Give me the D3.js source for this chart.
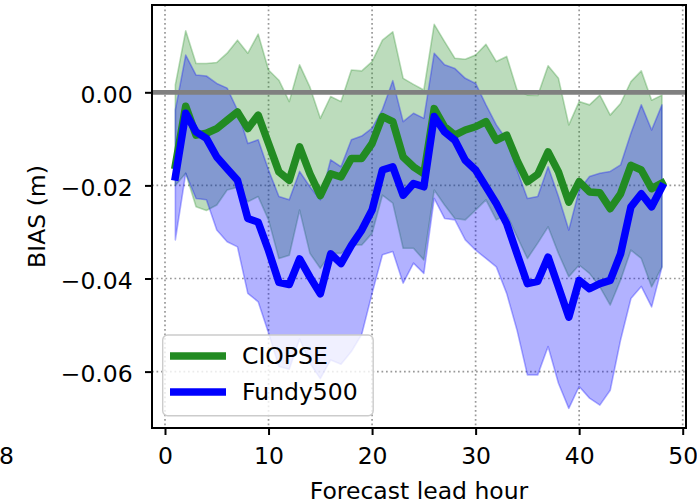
<!DOCTYPE html>
<html>
<head>
<meta charset="utf-8">
<script src="https://cdn.jsdelivr.net/npm/d3@7"></script>
<style>
  html, body { margin: 0; padding: 0; background: #fff; }
  svg { display: block; font-family: "DejaVu Sans", sans-serif; }
</style>
</head>
<body>
<svg id="chart" width="697" height="504"></svg>
<script>
// Forecast lead hours 1..48
const hours = d3.range(1, 49);

// CIOPSE bias (m): mean and spread envelope
const ciopseMean = [
  -0.0157, -0.0030, -0.0092, -0.0088, -0.0078, -0.0060, -0.0042, -0.0078, -0.0049, -0.0110,
  -0.0171, -0.0189, -0.0117, -0.0175, -0.0222, -0.0175, -0.0182, -0.0142, -0.0142, -0.0110,
  -0.0052, -0.0063, -0.0139, -0.0160, -0.0175, -0.0035, -0.0074, -0.0092, -0.0081, -0.0074,
  -0.0063, -0.0103, -0.0092, -0.0146, -0.0192, -0.0176, -0.0128, -0.0171, -0.0236, -0.0192,
  -0.0214, -0.0216, -0.0250, -0.0218, -0.0157, -0.0167, -0.0207, -0.0195
];
const ciopseUpper = [
   0.0016,  0.0132,  0.0062,  0.0062,  0.0064,  0.0084,  0.0112,  0.0084,  0.0125,  0.0048,
   0.0026, -0.0020,  0.0059,  0.0011, -0.0056, -0.0009, -0.0020,  0.0048,  0.0046,  0.0066,
   0.0112,  0.0130,  0.0030,  0.0017,  0.0005,  0.0146,  0.0109,  0.0073,  0.0071,  0.0080,
   0.0103,  0.0066,  0.0077,  0.0005, -0.0006, -0.0007,  0.0057,  0.0030, -0.0070, -0.0020,
  -0.0027, -0.0006, -0.0049, -0.0024,  0.0023,  0.0046, -0.0017, -0.0006
];
const ciopseLower = [
  -0.0200, -0.0174, -0.0246, -0.0254, -0.0242, -0.0210, -0.0204, -0.0235, -0.0224, -0.0274,
  -0.0357, -0.0350, -0.0253, -0.0346, -0.0378, -0.0346, -0.0346, -0.0328, -0.0328, -0.0303,
  -0.0221, -0.0238, -0.0335, -0.0335, -0.0360, -0.0210, -0.0242, -0.0271, -0.0274, -0.0253,
  -0.0231, -0.0274, -0.0262, -0.0310, -0.0357, -0.0324, -0.0289, -0.0346, -0.0396, -0.0371,
  -0.0389, -0.0418, -0.0457, -0.0403, -0.0339, -0.0357, -0.0418, -0.0375
];

// Fundy500 bias (m): mean and spread envelope
const fundyMean = [
  -0.0182, -0.0045, -0.0085, -0.0099, -0.0139, -0.0164, -0.0189, -0.0271, -0.0279, -0.0340,
  -0.0408, -0.0413, -0.0358, -0.0397, -0.0433, -0.0347, -0.0368, -0.0329, -0.0296, -0.0253,
  -0.0167, -0.0160, -0.0221, -0.0196, -0.0203, -0.0052, -0.0085, -0.0103, -0.0146, -0.0167,
  -0.0203, -0.0239, -0.0282, -0.0347, -0.0411, -0.0406, -0.0354, -0.0418, -0.0483, -0.0404,
  -0.0422, -0.0411, -0.0404, -0.0347, -0.0246, -0.0218, -0.0246, -0.0203
];
const fundyUpper = [
  -0.0038,  0.0080,  0.0037,  0.0035,  0.0019,  0.0009, -0.0038, -0.0110, -0.0102, -0.0167,
  -0.0224, -0.0231, -0.0170, -0.0203, -0.0231, -0.0145, -0.0160, -0.0102, -0.0094, -0.0077,
  -0.0037,  0.0025, -0.0063, -0.0045, -0.0056,  0.0084,  0.0059,  0.0051,  0.0030,  0.0019,
  -0.0027, -0.0070, -0.0102, -0.0167, -0.0228, -0.0224, -0.0160, -0.0224, -0.0296, -0.0210,
  -0.0181, -0.0174, -0.0170, -0.0156, -0.0088, -0.0027, -0.0081, -0.0027
];
const fundyLower = [
  -0.0317, -0.0174, -0.0228, -0.0231, -0.0296, -0.0321, -0.0332, -0.0432, -0.0450, -0.0517,
  -0.0589, -0.0595, -0.0530, -0.0582, -0.0615, -0.0575, -0.0584, -0.0557, -0.0520, -0.0432,
  -0.0349, -0.0342, -0.0410, -0.0367, -0.0389, -0.0228, -0.0271, -0.0274, -0.0317, -0.0339,
  -0.0357, -0.0375, -0.0432, -0.0511, -0.0607, -0.0607, -0.0546, -0.0625, -0.0679, -0.0632,
  -0.0657, -0.0672, -0.0640, -0.0532, -0.0443, -0.0417, -0.0461, -0.0375
];

const xTicks = [0, 10, 20, 30, 40, 50];
const yTicks = [0, -0.02, -0.04, -0.06];
const seriesNames = ["CIOPSE", "Fundy500"];
const xLabel = "Forecast lead hour";
const yLabel = "BIAS (m)";

// ---- layout ----
const FONT = 23.5;
const box = { left: 152, right: 686, top: 5, bottom: 428 };
const green = "#228B22", blue = "#0000FF";

const svg = d3.select("#chart");

const x = d3.scaleLinear().domain([0, 50]).range([165, 682.7]);
const y = d3.scaleLinear().domain([0, -0.06]).range([92.3, 371.6]);

svg.append("defs").append("clipPath").attr("id", "plotclip")
  .append("rect")
  .attr("x", box.left).attr("y", box.top)
  .attr("width", box.right - box.left).attr("height", box.bottom - box.top);

const plot = svg.append("g").attr("clip-path", "url(#plotclip)");

// dotted grid
const gridStyle = g => g.attr("stroke", "#999").attr("stroke-width", 1.7)
  .attr("stroke-dasharray", "1.7 2.8").attr("fill", "none");
plot.append("g").call(gridStyle)
  .selectAll("line.gx").data(xTicks).join("line")
  .attr("x1", d => x(d)).attr("x2", d => x(d))
  .attr("y1", box.top).attr("y2", box.bottom);
plot.append("g").call(gridStyle)
  .selectAll("line.gy").data(yTicks).join("line")
  .attr("x1", box.left).attr("x2", box.right)
  .attr("y1", d => y(d)).attr("y2", d => y(d));

// spread envelopes
function band(upper, lower, color) {
  const area = d3.area()
    .x((d, i) => x(hours[i]))
    .y0((d, i) => y(lower[i]))
    .y1((d, i) => y(upper[i]));
  plot.append("path")
    .datum(hours)
    .attr("d", area)
    .attr("fill", color).attr("fill-opacity", 0.3)
    .attr("stroke", color).attr("stroke-opacity", 0.3)
    .attr("stroke-width", 1.6).attr("stroke-linejoin", "round");
}
band(ciopseUpper, ciopseLower, green);
band(fundyUpper, fundyLower, blue);

// zero reference line
plot.append("line")
  .attr("x1", box.left).attr("x2", box.right)
  .attr("y1", y(0)).attr("y2", y(0))
  .attr("stroke", "#808080").attr("stroke-width", 4.8);

// mean bias lines
function meanLine(values, color) {
  const line = d3.line().x((d, i) => x(hours[i])).y(d => y(d));
  plot.append("path")
    .datum(values)
    .attr("d", line)
    .attr("fill", "none")
    .attr("stroke", color).attr("stroke-width", 7.5)
    .attr("stroke-linejoin", "round").attr("stroke-linecap", "square");
}
meanLine(ciopseMean, green);
meanLine(fundyMean, blue);

// axes
const xAxis = svg.append("g")
  .attr("transform", `translate(0,${box.bottom})`)
  .call(d3.axisBottom(x).tickValues(xTicks).tickFormat(d3.format("d"))
    .tickSize(7).tickPadding(12.6).tickSizeOuter(0));
const yAxis = svg.append("g")
  .attr("transform", `translate(${box.left},0)`)
  .call(d3.axisLeft(y).tickValues(yTicks)
    .tickFormat(d => d3.format(".2f")(d).replace("-", "\u2212"))
    .tickSize(7).tickPadding(12.3).tickSizeOuter(0));

[xAxis, yAxis].forEach(a => {
  a.select(".domain").remove();
  a.selectAll(".tick line").attr("stroke", "#000").attr("stroke-width", 2);
  a.selectAll(".tick text").attr("fill", "#000")
    .style("font-size", FONT + "px").style("font-family", "DejaVu Sans, sans-serif");
});
yAxis.selectAll(".tick text").attr("dy", "0.43em");

// frame
svg.append("rect")
  .attr("x", box.left).attr("y", box.top)
  .attr("width", box.right - box.left).attr("height", box.bottom - box.top)
  .attr("fill", "none").attr("stroke", "#000").attr("stroke-width", 2);

// stray tick label at the left edge
svg.append("text")
  .attr("x", -1).attr("y", 464.3)
  .style("font-size", FONT + "px")
  .text("8");

// axis labels
svg.append("text")
  .attr("x", (box.left + box.right) / 2).attr("y", 499)
  .attr("text-anchor", "middle")
  .style("font-size", FONT + "px")
  .text(xLabel);
svg.append("text")
  .attr("transform", `translate(45,${(box.top + box.bottom) / 2}) rotate(-90)`)
  .attr("text-anchor", "middle")
  .style("font-size", FONT + "px")
  .text(yLabel);

// legend
const legend = svg.append("g");
legend.append("rect")
  .attr("x", 162.7).attr("y", 335).attr("width", 210.5).attr("height", 80.7)
  .attr("rx", 5).attr("ry", 5)
  .attr("fill", "#fff").attr("fill-opacity", 0.8)
  .attr("stroke", "#cccccc").attr("stroke-width", 1.4);
const legendRows = [
  { name: seriesNames[0], color: green, ly: 356, ty: 364.3 },
  { name: seriesNames[1], color: blue, ly: 392, ty: 400 }
];
legendRows.forEach(r => {
  legend.append("line")
    .attr("x1", 170).attr("x2", 226).attr("y1", r.ly).attr("y2", r.ly)
    .attr("stroke", r.color).attr("stroke-width", 7.7);
  legend.append("text")
    .attr("x", 242).attr("y", r.ty)
    .style("font-size", FONT + "px")
    .text(r.name);
});
</script>
</body>
</html>
